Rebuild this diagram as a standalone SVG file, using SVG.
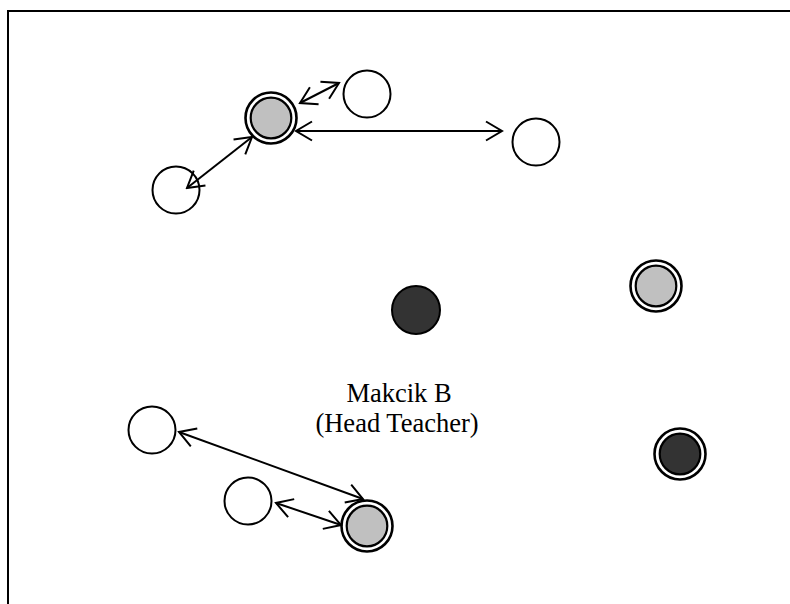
<svg xmlns="http://www.w3.org/2000/svg" width="790" height="604" viewBox="0 0 790 604">
<style>
.frame{fill:none;stroke:#000;stroke-width:2}
.plain{fill:#fff;stroke:#000;stroke-width:2}
.dark{fill:#333;stroke:#000;stroke-width:2}
.ring{fill:#fff;stroke:#000;stroke-width:2.6}
.gray{fill:#c0c0c0;stroke:#000;stroke-width:2.2}
.darkin{fill:#333;stroke:#000;stroke-width:2.2}
.link{fill:none;stroke:#000;stroke-width:2;marker-start:url(#ah);marker-end:url(#ah)}
.label{font-family:"Liberation Serif","Times New Roman",serif;font-size:26.5px;fill:#000;text-anchor:middle}
</style>
<defs>
<marker id="ah" markerUnits="userSpaceOnUse" viewBox="-20 -12 22 24" refX="0" refY="0" markerWidth="22" markerHeight="24" orient="auto-start-reverse">
<path d="M-16,-9.5 L0,0 L-16,9.5" fill="none" stroke="#000" stroke-width="2"/>
</marker>
</defs>
<rect width="790" height="604" fill="#fff"/>
<path class="frame" d="M8,604 L8,11 L790,11"/>
<g id="n1"><circle class="ring" cx="271" cy="118" r="25.5"/><circle class="gray" cx="271" cy="118" r="20.3"/></g>
<g id="n2"><circle class="plain" cx="367" cy="94" r="23.5"/></g>
<g id="n3"><circle class="plain" cx="176" cy="190" r="23.5"/></g>
<g id="n4"><circle class="plain" cx="536" cy="142" r="23.5"/></g>
<g id="n5"><circle class="dark" cx="416" cy="310" r="24"/></g>
<g id="n6"><circle class="ring" cx="656" cy="286" r="25.5"/><circle class="gray" cx="656" cy="286" r="20.3"/></g>
<g id="n7"><circle class="ring" cx="680" cy="454" r="25.5"/><circle class="darkin" cx="680" cy="454" r="20.3"/></g>
<g id="n8"><circle class="plain" cx="152" cy="430" r="23.5"/></g>
<g id="n9"><circle class="plain" cx="248" cy="501" r="23.5"/></g>
<g id="n10"><circle class="ring" cx="367" cy="526" r="25.5"/><circle class="gray" cx="367" cy="526" r="20.3"/></g>
<g id="connectors">
<line class="link" x1="300" y1="103" x2="339" y2="83"/>
<line class="link" x1="296" y1="131" x2="502" y2="131"/>
<line class="link" x1="252" y1="137" x2="187" y2="188"/>
<line class="link" x1="179" y1="432" x2="363" y2="499"/>
<line class="link" x1="276" y1="503" x2="341" y2="525"/>
</g>
<g id="label"><text class="label" x="399" y="402">Makcik B</text><text class="label" x="397" y="432">(Head Teacher)</text></g>
</svg>
